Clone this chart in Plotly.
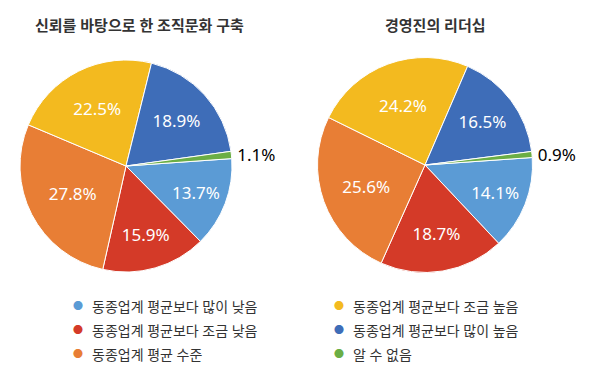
import plotly.graph_objects as go

categories = ["동종업계 평균보다 많이 낮음", "동종업계 평균보다 조금 낮음", "동종업계 평균 수준",
              "동종업계 평균보다 조금 높음", "동종업계 평균보다 많이 높음", "알 수 없음"]
colors = ["#5B9BD5", "#D43A28", "#E87E35", "#F3BA1F", "#3E6DB8", "#6BAE45"]
trust_culture = [13.7, 15.9, 27.8, 22.5, 18.9, 1.1]
leadership = [14.1, 18.7, 25.6, 24.2, 16.5, 0.9]
titles = ["신뢰를 바탕으로 한 조직문화 구축", "경영진의 리더십"]

W, H = 600, 378
OFF = 8  # page body margin in the rendered page
FONT = "Noto Sans, Noto Sans CJK KR, sans-serif"

def px(x):
    return (x - OFF) / W

def py(y):
    return 1 - (y - OFF) / H

def dom(cx, cy, r):
    return dict(x=[px(cx - r), px(cx + r)], y=[py(cy + r), py(cy - r)])

fig = go.Figure()
positions = ["inside"] * 5 + ["outside"]
text_colors = ["white"] * 5 + ["black"]
for vals, d in [(trust_culture, dom(126, 166, 106)), (leadership, dom(425, 165, 107.5))]:
    fig.add_trace(go.Pie(
        labels=categories, values=vals, sort=False, direction="clockwise", rotation=86,
        marker=dict(colors=colors, line=dict(color="white", width=1)),
        texttemplate="%{value:.1f}%", textposition=positions,
        textfont=dict(size=17, color=text_colors, family=FONT),
        insidetextorientation="horizontal", showlegend=False, domain=d,
        hoverinfo="label+value"))

annotations = [
    dict(text=f"<b>{titles[0]}</b>", x=px(139), y=py(25)),
    dict(text=f"<b>{titles[1]}</b>", x=px(435), y=py(25)),
]
for a in annotations:
    a.update(xref="paper", yref="paper", xanchor="center", yanchor="middle", showarrow=False,
             font=dict(size=15, color="#333333", family=FONT))

# legend in two columns (dot + label)
col_x = [78, 339]
row_y = [306, 330, 354]
for i, (name, c) in enumerate(zip(categories, colors)):
    cx = col_x[i // 3]
    ry = row_y[i % 3]
    annotations.append(dict(text="●", x=px(cx), y=py(ry), xref="paper", yref="paper",
                            xanchor="center", yanchor="middle", showarrow=False,
                            font=dict(size=10, color=c, family=FONT)))
    annotations.append(dict(text=name, x=px(cx + 12), y=py(ry), xref="paper", yref="paper",
                            xanchor="left", yanchor="middle", showarrow=False,
                            font=dict(size=14, color="#333333", family=FONT)))

fig.update_layout(
    width=W, height=H, margin=dict(l=0, r=0, t=0, b=0),
    paper_bgcolor="white", plot_bgcolor="white",
    annotations=annotations,
)
fig.write_html("out.html")
